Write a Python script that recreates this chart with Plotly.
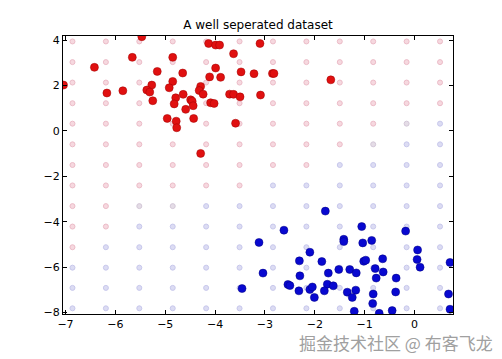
import plotly.graph_objects as go

# Red class points
red_x = [-5.47, -4.13, -3.99, -3.91, -5.66, -4.85, -6.42, -3.99, -5.16, -4.65, -4.11, -3.89,
         -7.04, -5.27, -4.85, -4.92, -4.29, -6.17, -5.85, -5.37, -5.31, -4.32, -4.24, -4.64,
         -4.79, -5.25, -4.49, -4.46, -4.82, -4.44, -4.09, -4.02, -4.59, -4.96, -4.43, -4.78,
         -4.77, -4.29, -3.10, -3.63, -3.48, -3.22, -2.85, -2.82, -1.68, -3.71, -3.63, -3.50,
         -3.09, -3.59]
red_y = [4.15, 3.85, 3.78, 3.78, 3.24, 3.24, 2.80, 2.77, 2.62, 2.55, 2.38, 2.36,
         2.02, 2.02, 2.18, 1.90, 1.96, 1.67, 1.77, 1.80, 1.71, 1.78, 1.62, 1.61,
         1.46, 1.33, 1.37, 1.31, 1.19, 1.11, 1.24, 1.21, 0.95, 0.55, 0.55, 0.43,
         0.14, -0.99, 3.85, 3.40, 2.60, 2.52, 2.53, 2.53, 2.25, 1.62, 1.61, 1.50,
         1.58, 0.34]

# Blue class points
blue_x = [-1.79, -2.62, -1.06, -0.18, -3.12, -1.42, -1.42, -1.04, -0.86, -2.10, 0.06, -2.31,
          -1.86, -1.02, -0.98, -0.64, 0.05, 0.71, -3.04, -2.30, -1.73, -1.52, -1.30, -1.17,
          -0.79, -0.63, 0.11, -0.77, -0.37, -3.46, -2.54, -2.50, -2.32, -2.10, -2.05, -1.75,
          -1.63, -1.81, -2.01, -1.35, -1.18, -1.25, -0.83, -0.38, 0.68, -0.84, -1.21, -0.71,
          -0.45, 0.71]
blue_y = [-3.53, -4.37, -4.21, -4.41, -4.91, -4.77, -4.87, -4.93, -4.82, -5.34, -5.24, -5.72,
          -5.75, -5.74, -5.69, -5.63, -5.66, -5.79, -6.26, -6.38, -6.26, -6.10, -6.10, -6.25,
          -6.06, -6.21, -6.00, -6.48, -6.48, -6.94, -6.76, -6.81, -7.04, -6.98, -6.87, -6.75,
          -6.82, -7.04, -7.33, -7.10, -7.01, -7.33, -7.18, -7.09, -7.18, -7.60, -7.94, -8.03,
          -7.91, -7.85]

# Background decision grid
grid_x = [-6.86, -6.19, -5.52, -4.85, -4.18, -3.51, -2.84, -2.17, -1.50, -0.83, -0.16, 0.51]
grid_y = [3.94, 3.03, 2.13, 1.22, 0.32, -0.59, -1.50, -2.40, -3.31, -4.21, -5.12, -6.02, -6.91, -7.81]
grid_class = [
    "PPPPPPPPPPPP",
    "PPPPPPPPPPPP",
    "PPPPPPPPPPPP",
    "PPPPPPPPPPPP",
    "PPPPPPPPPPGB",
    "PPPPPPPPPGBB",
    "PPPPPPPPBBBB",
    "PPPPPPBBBBBB",
    "PPGGBBBBBBBB",
    "PPBBBBBBBBBB",
    "PBBBBBBBBBBB",
    "BBBBBBBBBBBB",
    "BBBBBBBBBBBB",
    "BBBBBBBBBBBB",
]

x_ticks = [-7, -6, -5, -4, -3, -2, -1, 0]
y_ticks = [-8, -6, -4, -2, 0, 2, 4]

fill = {"P": "#f6d8df", "B": "#dcdcf3", "G": "#e4dce6"}
edge = {"P": "#ecbcc8", "B": "#c8c8ec", "G": "#d4c8d8"}

fig = go.Figure()
for cls in ["P", "G", "B"]:
    gx, gy = [], []
    for r, yv in enumerate(grid_y):
        for c, xv in enumerate(grid_x):
            if grid_class[r][c] == cls:
                gx.append(xv)
                gy.append(yv)
    fig.add_trace(go.Scatter(x=gx, y=gy, mode="markers", hoverinfo="skip",
                             marker=dict(size=5, color=fill[cls], line=dict(width=1, color=edge[cls]))))

fig.add_trace(go.Scatter(x=red_x, y=red_y, mode="markers",
                         marker=dict(size=8, color="#e01010", line=dict(width=0.5, color="#a00000"))))
fig.add_trace(go.Scatter(x=blue_x, y=blue_y, mode="markers",
                         marker=dict(size=8, color="#0808d0", line=dict(width=0.5, color="#000080"))))

axis_common = dict(showgrid=False, zeroline=False, showline=True, linecolor="black", linewidth=1.2,
                   mirror="ticks", ticks="inside", ticklen=4, tickcolor="black",
                   tickfont=dict(family="DejaVu Sans", size=11, color="black"))

fig.update_xaxes(range=[-7.05, 0.77], tickvals=x_ticks, **axis_common)
fig.update_yaxes(range=[-8.06, 4.18], tickvals=y_ticks, **axis_common)

fig.update_layout(
    width=494, height=351,
    margin=dict(l=55, r=49, t=28, b=45),
    paper_bgcolor="white", plot_bgcolor="white",
    showlegend=False,
    title=dict(text="A well seperated dataset", x=0.506, xanchor="center", y=0.952, yanchor="middle",
               font=dict(family="DejaVu Sans", size=12, color="black")),
    annotations=[dict(text="掘金技术社区 @ 布客飞龙", xref="paper", yref="paper",
                      x=1.108, y=-0.101, xanchor="right", yanchor="middle", showarrow=False,
                      font=dict(family="Noto Sans CJK SC", size=17, color="#a0a0a0"))],
)

fig.write_html("out.html")
